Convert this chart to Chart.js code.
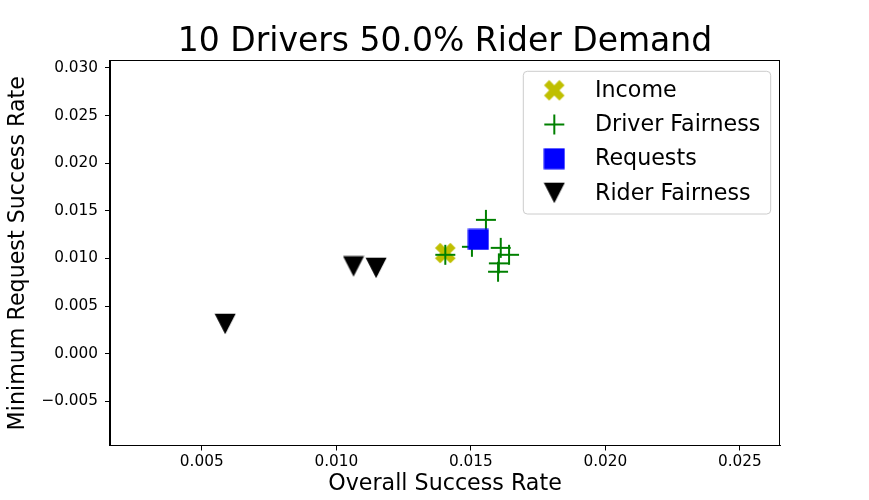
<!DOCTYPE html>
<html>
<head>
<meta charset="utf-8">
<script src="https://cdn.jsdelivr.net/npm/chart.js@4.4.1/dist/chart.umd.min.js"></script>
<style>
html, body { margin: 0; padding: 0; background: #ffffff; }
#wrap { width: 869px; height: 500px; }
</style>
</head>
<body>
<div id="wrap"><canvas id="c" width="869" height="500"></canvas></div>
<script>
// ---- data ----
const chartTitle = "10 Drivers 50.0% Rider Demand";
const xAxisLabel = "Overall Success Rate";
const yAxisLabel = "Minimum Request Success Rate";
const seriesNames = ["Income", "Driver Fairness", "Requests", "Rider Fairness"];

const incomeX = [0.01405];
const incomeY = [0.01056];
const driverX = [0.01556, 0.01405, 0.01504, 0.01611, 0.01642, 0.01604, 0.01601];
const driverY = [0.01405, 0.01038, 0.01122, 0.01111, 0.01038, 0.00948, 0.00860];
const requestsX = [0.01528];
const requestsY = [0.01199];
const riderX = [0.00587, 0.01064, 0.01148];
const riderY = [0.00311, 0.00916, 0.00900];

const xTickValues = [0.005, 0.010, 0.015, 0.020, 0.025];
const yTickValues = [-0.005, 0.000, 0.005, 0.010, 0.015, 0.020, 0.025, 0.030];

// ---- marker images (matplotlib-like shapes) ----
function makeCanvas(size) {
  const c = document.createElement('canvas');
  c.width = size; c.height = size;
  return c;
}
function markerX(color) {
  const s = 22, c = makeCanvas(s), g = c.getContext('2d');
  const m = 20.5, o = s / 2;
  const pts = [[-0.25,-0.5],[0,-0.25],[0.25,-0.5],[0.5,-0.25],[0.25,0],[0.5,0.25],
               [0.25,0.5],[0,0.25],[-0.25,0.5],[-0.5,0.25],[-0.25,0],[-0.5,-0.25]];
  g.beginPath();
  pts.forEach((p, i) => { const x = o + p[0]*m, y = o + p[1]*m; i ? g.lineTo(x, y) : g.moveTo(x, y); });
  g.closePath(); g.fillStyle = color; g.fill();
  return c;
}
function markerPlus(color) {
  const s = 22, c = makeCanvas(s), g = c.getContext('2d');
  g.strokeStyle = color; g.lineWidth = 2;
  g.beginPath(); g.moveTo(1, 11); g.lineTo(21, 11); g.moveTo(11, 1); g.lineTo(11, 21); g.stroke();
  return c;
}
function markerSquare(color) {
  const s = 22, c = makeCanvas(s), g = c.getContext('2d');
  g.fillStyle = color; g.fillRect(0.5, 0.5, 21, 21);
  return c;
}
function markerTriDown(color) {
  const s = 22, c = makeCanvas(s), g = c.getContext('2d');
  g.beginPath(); g.moveTo(0.5, 0.8); g.lineTo(21.5, 0.8); g.lineTo(11, 21.2); g.closePath();
  g.fillStyle = color; g.fill();
  return c;
}
const mkIncome = markerX('#bfbf00');
const mkDriver = markerPlus('#008000');
const mkRequests = markerSquare('#0000ff');
const mkRider = markerTriDown('#000000');

function pts(xs, ys) { return xs.map((x, i) => ({ x: x, y: ys[i] })); }

const FONT = "'DejaVu Sans', 'Liberation Sans', sans-serif";

const framePlugin = {
  id: 'framePlugin',
  beforeDraw(chart) {
    const g = chart.ctx;
    g.save(); g.fillStyle = '#ffffff'; g.fillRect(0, 0, chart.width, chart.height); g.restore();
  },
  afterDatasetsDraw(chart) {
    const a = chart.chartArea, g = chart.ctx;
    g.save();
    g.strokeStyle = '#000000'; g.lineWidth = 1;
    const l = Math.round(a.left) - 0.5, t = Math.round(a.top) - 0.5;
    const r = Math.round(a.right) - 0.5, b = Math.round(a.bottom) - 0.5;
    g.strokeRect(l, t, r - l, b - t);
    // title
    g.fillStyle = '#000000';
    g.font = "33px " + FONT;
    g.textAlign = 'center'; g.textBaseline = 'alphabetic';
    g.fillText(chartTitle, (a.left + a.right) / 2, a.top - 10);
    // legend
    const images = [mkIncome, mkDriver, mkRequests, mkRider];
    const bx = a.right - 256.7, by = a.top + 10.3, bw = 247.4, bh = 142.7, rr = 4;
    g.beginPath();
    g.moveTo(bx + rr, by); g.lineTo(bx + bw - rr, by); g.quadraticCurveTo(bx + bw, by, bx + bw, by + rr);
    g.lineTo(bx + bw, by + bh - rr); g.quadraticCurveTo(bx + bw, by + bh, bx + bw - rr, by + bh);
    g.lineTo(bx + rr, by + bh); g.quadraticCurveTo(bx, by + bh, bx, by + bh - rr);
    g.lineTo(bx, by + rr); g.quadraticCurveTo(bx, by, bx + rr, by);
    g.closePath();
    g.fillStyle = 'rgba(255,255,255,0.8)'; g.fill();
    g.strokeStyle = '#cccccc'; g.lineWidth = 1; g.stroke();
    g.font = "22.2px " + FONT;
    g.textAlign = 'left'; g.textBaseline = 'middle';
    g.fillStyle = '#000000';
    chart.data.datasets.forEach((ds, i) => {
      const cy = by + 19 + i * 34.2;
      const img = images[i];
      g.drawImage(img, bx + 31 - img.width / 2, cy - img.height / 2);
      g.fillText(ds.label, bx + 71.7, cy + 1);
    });
    g.restore();
  }
};

function fmt(v) {
  const s = Math.abs(v).toFixed(3);
  return (v < -1e-12 ? '\u2212' : '') + s;
}

const tickFont = { family: FONT, size: 15.3 };

new Chart(document.getElementById('c'), {
  type: 'scatter',
  data: {
    datasets: [
      { label: seriesNames[0], data: pts(incomeX, incomeY), pointStyle: mkIncome, order: 4 },
      { label: seriesNames[1], data: pts(driverX, driverY), pointStyle: mkDriver, order: 3 },
      { label: seriesNames[2], data: pts(requestsX, requestsY), pointStyle: mkRequests, order: 2 },
      { label: seriesNames[3], data: pts(riderX, riderY), pointStyle: mkRider, order: 1 }
    ]
  },
  options: {
    responsive: false,
    animation: false,
    events: [],
    layout: { padding: { left: 0, right: 89, top: 61, bottom: 0 } },
    plugins: { legend: { display: false }, tooltip: { enabled: false }, title: { display: false } },
    scales: {
      x: {
        type: 'linear',
        min: 0.00159, max: 0.02649,
        afterFit(scale) { scale.height = 54.5; },
        afterBuildTicks(scale) { scale.ticks = xTickValues.map(v => ({ value: v })); },
        ticks: { callback: v => fmt(v), font: tickFont, color: '#000000', padding: 2, maxRotation: 0 },
        grid: { drawOnChartArea: false, drawTicks: true, tickLength: 5, tickColor: '#000000', tickWidth: 1 },
        border: { display: true, color: '#000000', width: 1 },
        title: { display: true, text: xAxisLabel, font: { family: FONT, size: 22.2 }, color: '#000000', padding: { top: 0, bottom: 2 } }
      },
      y: {
        type: 'linear',
        min: -0.00965, max: 0.03073,
        afterFit(scale) { scale.width = 110; },
        afterBuildTicks(scale) { scale.ticks = yTickValues.map(v => ({ value: v })); },
        ticks: { callback: v => fmt(v), font: tickFont, color: '#000000', padding: 7 },
        grid: { drawOnChartArea: false, drawTicks: true, tickLength: 5, tickColor: '#000000', tickWidth: 1 },
        border: { display: true, color: '#000000', width: 1 },
        title: { display: true, text: yAxisLabel, font: { family: FONT, size: 22.2 }, color: '#000000', padding: { top: 5, bottom: 0 } }
      }
    }
  },
  plugins: [framePlugin]
});
</script>
</body>
</html>
